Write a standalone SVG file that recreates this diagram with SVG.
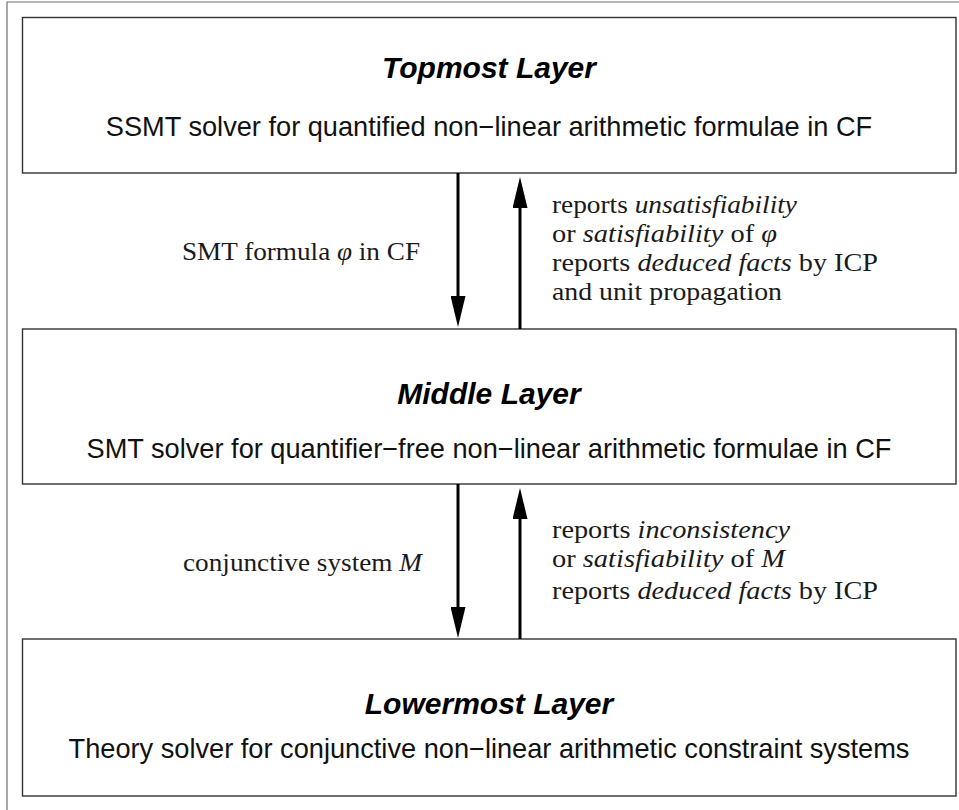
<svg xmlns="http://www.w3.org/2000/svg" width="959" height="810" viewBox="0 0 959 810">
  <style>
    .frame { fill: none; stroke: #6e6e6e; stroke-width: 1.2; }
    .layer { fill: #ffffff; stroke: #333333; stroke-width: 1.4; }
    .title { font-family: "Liberation Sans", Arial, sans-serif; font-size: 30px; font-weight: bold; font-style: italic; fill: #000000; text-anchor: middle; }
    .desc { font-family: "Liberation Sans", Arial, sans-serif; font-size: 27.2px; fill: #111111; text-anchor: middle; }
    .lbl { font-family: "Liberation Serif", "Times New Roman", serif; font-size: 25px; fill: #1a1a1a; }
    .it { font-style: italic; }
    .arrow { stroke: #000000; stroke-width: 3; fill: none; marker-end: url(#head); }
  </style>
  <defs>
    <marker id="head" markerUnits="userSpaceOnUse" viewBox="0 -7.5 31 15" markerWidth="31" markerHeight="15" refX="1" refY="0" orient="auto">
      <path d="M0,-7.5 L31,0 L0,7.5 z" fill="#000000"/>
    </marker>
  </defs>

  <rect width="959" height="810" fill="#ffffff"/>
  <!-- surrounding frame, open to the right and bottom -->
  <path class="frame" d="M7,812 L7,2 L961,2"/>

  <g id="topmost-layer">
    <rect class="layer" x="22.5" y="17.5" width="933.5" height="155.5"/>
    <text class="title" x="489" y="78">Topmost Layer</text>
    <text class="desc" x="489" y="136">SSMT solver for quantified non−linear arithmetic formulae in CF</text>
  </g>

  <g id="middle-layer">
    <rect class="layer" x="22.5" y="329" width="933.5" height="155"/>
    <text class="title" x="489" y="404">Middle Layer</text>
    <text class="desc" x="489" y="458">SMT solver for quantifier−free non−linear arithmetic formulae in CF</text>
  </g>

  <g id="lowermost-layer">
    <rect class="layer" x="22.5" y="639" width="933.5" height="157"/>
    <text class="title" x="489" y="714">Lowermost Layer</text>
    <text class="desc" x="489" y="758">Theory solver for conjunctive non−linear arithmetic constraint systems</text>
  </g>

  <g id="connectors">
    <line class="arrow" x1="458" y1="173" x2="458" y2="297"/>
    <line class="arrow" x1="520" y1="329" x2="520" y2="207"/>
    <line class="arrow" x1="458" y1="484" x2="458" y2="608"/>
    <line class="arrow" x1="520" y1="639" x2="520" y2="518"/>
  </g>

  <g id="labels">
    <text class="lbl" x="182" y="260" textLength="238" lengthAdjust="spacingAndGlyphs">SMT formula <tspan class="it">φ</tspan> in CF</text>
    <text class="lbl" x="552" y="213" textLength="245" lengthAdjust="spacingAndGlyphs">reports <tspan class="it">unsatisfiability</tspan></text>
    <text class="lbl" x="552" y="241.5" textLength="225" lengthAdjust="spacingAndGlyphs">or <tspan class="it">satisfiability</tspan> of <tspan class="it">φ</tspan></text>
    <text class="lbl" x="552" y="271" textLength="326" lengthAdjust="spacingAndGlyphs">reports <tspan class="it">deduced facts</tspan> by ICP</text>
    <text class="lbl" x="552" y="299.5" textLength="230" lengthAdjust="spacingAndGlyphs">and unit propagation</text>

    <text class="lbl" x="183" y="571" textLength="239" lengthAdjust="spacingAndGlyphs">conjunctive system <tspan class="it">M</tspan></text>
    <text class="lbl" x="552" y="538" textLength="238" lengthAdjust="spacingAndGlyphs">reports <tspan class="it">inconsistency</tspan></text>
    <text class="lbl" x="552" y="567" textLength="233" lengthAdjust="spacingAndGlyphs">or <tspan class="it">satisfiability</tspan> of <tspan class="it">M</tspan></text>
    <text class="lbl" x="552" y="599" textLength="326" lengthAdjust="spacingAndGlyphs">reports <tspan class="it">deduced facts</tspan> by ICP</text>
  </g>
</svg>
